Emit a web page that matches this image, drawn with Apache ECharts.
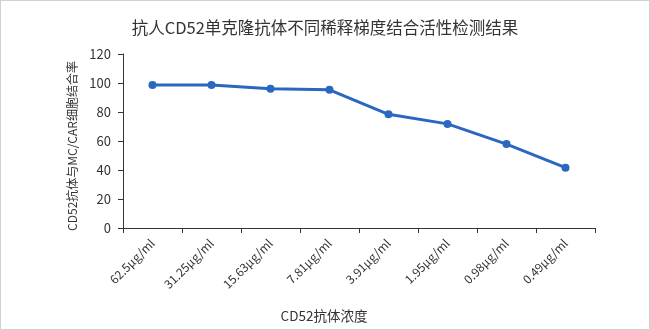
<!DOCTYPE html>
<html><head><meta charset="utf-8">
<script src="https://cdn.jsdelivr.net/npm/echarts@6/dist/echarts.min.js"></script>
<style>
html,body{margin:0;padding:0;background:#fff;}
#c{width:648px;height:328px;border:1px solid #d0d0d0;}
</style></head>
<body><div id="c"></div>
<script>
const titleText = '抗人CD52单克隆抗体不同稀释梯度结合活性检测结果';
const categories = ['62.5μg/ml','31.25μg/ml','15.63μg/ml','7.81μg/ml','3.91μg/ml','1.95μg/ml','0.98μg/ml','0.49μg/ml'];
const values = [98.6, 98.7, 96.1, 95.3, 78.4, 71.8, 57.9, 41.6];
const xName = 'CD52抗体浓度';
const yName = 'CD52抗体与MC/CAR细胞结合率';
const yMin = 0, yMax = 120, yStep = 20;

const font = '"Noto Sans CJK SC","Noto Sans",sans-serif';
const chart = echarts.init(document.getElementById('c'));
chart.setOption({
  animation:false,
  title:{text:titleText,left:'center',top:13,textStyle:{fontFamily:font,fontSize:16.5,fontWeight:'normal',color:'#333'}},
  grid:{left:122,right:54,top:53,bottom:101},
  xAxis:{type:'category',data:categories,boundaryGap:true,
    axisLine:{lineStyle:{color:'#333',width:1}},
    axisTick:{show:true,length:5,lineStyle:{color:'#333'}},
    axisLabel:{rotate:45,fontFamily:font,fontSize:12,color:'#333',margin:13,interval:0},
    name:xName,nameLocation:'middle',nameGap:81,
    nameTextStyle:{fontFamily:font,fontSize:13.5,color:'#333',padding:[0,70,0,0]}},
  yAxis:{type:'value',min:yMin,max:yMax,interval:yStep,
    axisLine:{show:true,lineStyle:{color:'#333',width:1}},
    axisTick:{show:true,length:5,lineStyle:{color:'#333'}},
    splitLine:{show:false},
    axisLabel:{fontFamily:font,fontSize:13,color:'#333',margin:12},
    name:yName,nameLocation:'middle',nameGap:41,
    nameTextStyle:{fontFamily:font,fontSize:12,color:'#333',padding:[0,10,0,0]}},
  series:[{type:'line',data:values,symbol:'circle',symbolSize:8,
    lineStyle:{color:'#2a68c0',width:3},itemStyle:{color:'#2a68c0'}}]
});
</script></body></html>
